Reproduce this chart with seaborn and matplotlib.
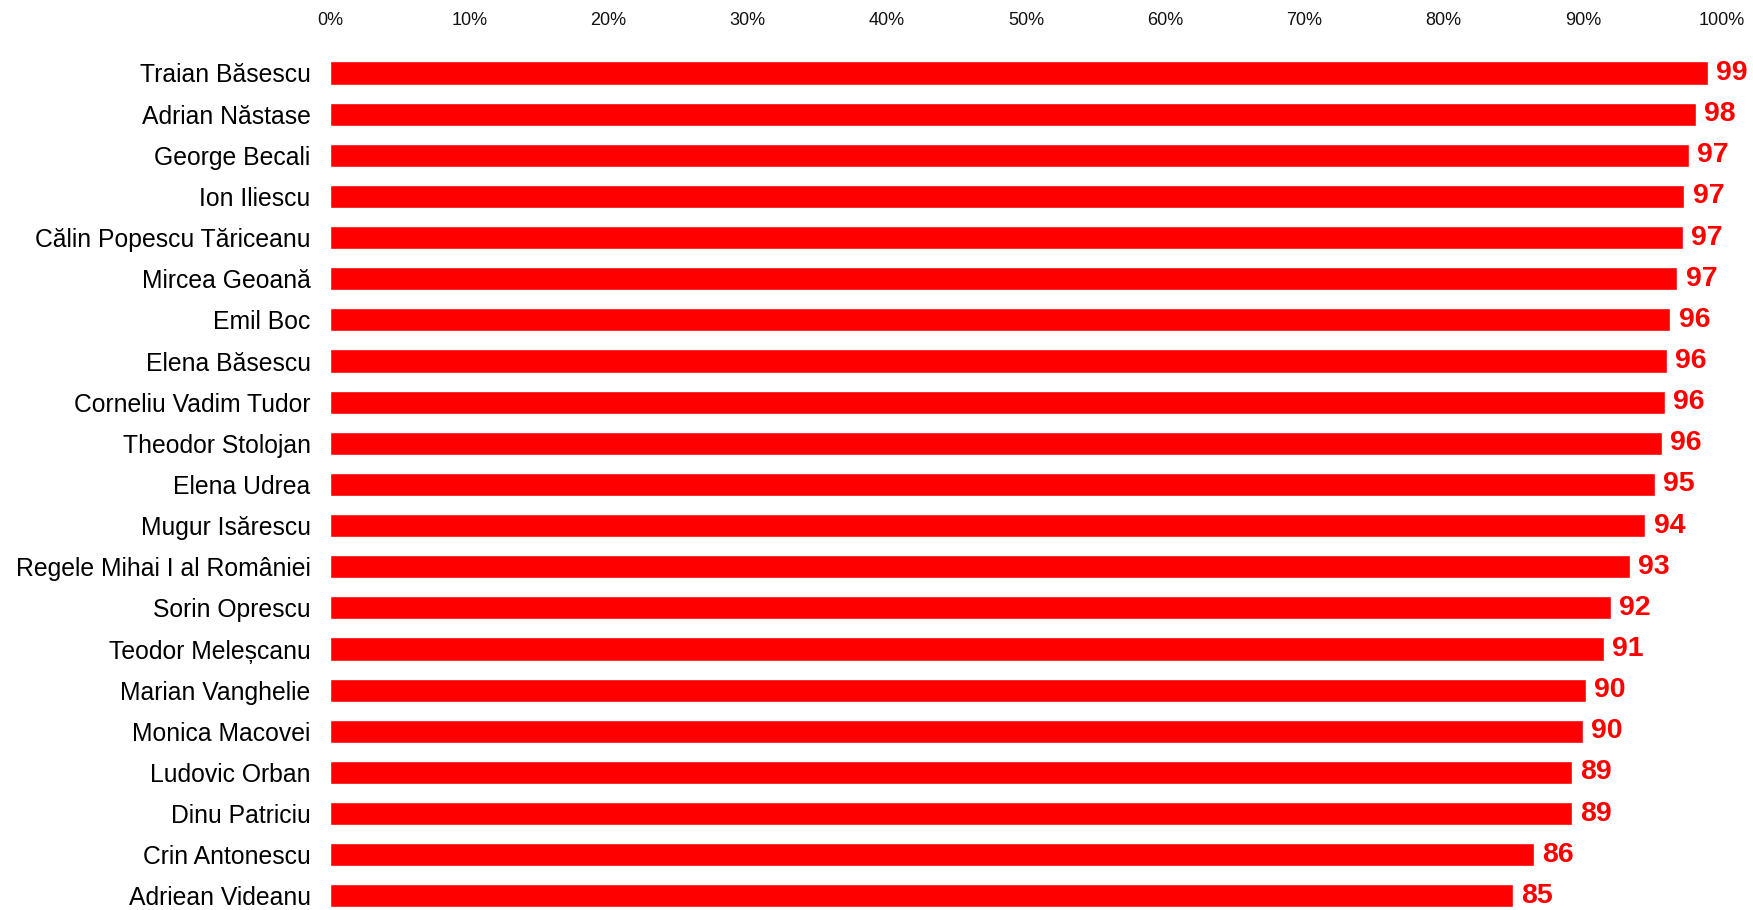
import pandas as pd
import matplotlib.pyplot as plt
import seaborn as sns


# Names, bar lengths and the printed labels
names = ['Traian Băsescu', 'Adrian Năstase', 'George Becali', 'Ion Iliescu',
         'Călin Popescu Tăriceanu', 'Mircea Geoană', 'Emil Boc',
         'Elena Băsescu', 'Corneliu Vadim Tudor', 'Theodor Stolojan',
         'Elena Udrea', 'Mugur Isărescu', 'Regele Mihai I al României',
         'Sorin Oprescu', 'Teodor Meleșcanu', 'Marian Vanghelie',
         'Monica Macovei', 'Ludovic Orban', 'Dinu Patriciu',
         'Crin Antonescu', 'Adriean Videanu']
values = [99.0, 98.1, 97.6, 97.3, 97.2, 96.8, 96.3, 96.05, 95.9, 95.7,
          95.2, 94.5, 93.4, 92.0, 91.5, 90.2, 90.0, 89.2, 89.2, 86.5, 85.0]
labels = [99, 98, 97, 97, 97, 97, 96, 96, 96, 96, 95, 94, 93, 92, 91,
          90, 90, 89, 89, 86, 85]
ticks = [0, 10, 20, 30, 40, 50, 60, 70, 80, 90, 100]

df = pd.DataFrame({'name': names, 'value': values})

sns.set_theme(style='white')
plt.rcParams['font.family'] = ['Liberation Sans', 'DejaVu Sans']

fig = plt.figure(figsize=(17.53, 9.10), dpi=100)
ax = fig.add_axes([0.1883, 0.0033, 0.7940, 0.9391])

# Horizontal red bars
sns.barplot(data=df, x='value', y='name', color='#FF0000', saturation=1,
            width=0.56, orient='h', ax=ax)

# Value labels at the end of every bar
texts = ax.bar_label(ax.containers[0], labels=[str(v) for v in labels],
                     padding=6, color='#FF0000', fontsize=20.5,
                     fontweight='bold')
for t in texts:
    t.set_va('center')

ax.set_xlim(0, 100)
ax.set_ylim(20.27, -0.5)

# Percent axis on top
ax.xaxis.tick_top()
ax.set_xticks(ticks)
ax.set_xticklabels([f'{t}%' for t in ticks])
ax.tick_params(axis='x', length=0, pad=17, labelsize=13, colors='#111111')
ax.tick_params(axis='y', length=0, pad=14, labelsize=17.8, colors='black')
ax.set_xlabel('')
ax.set_ylabel('')
for s in ax.spines.values():
    s.set_visible(False)

fig.savefig('out.png', dpi=100, facecolor='white')
